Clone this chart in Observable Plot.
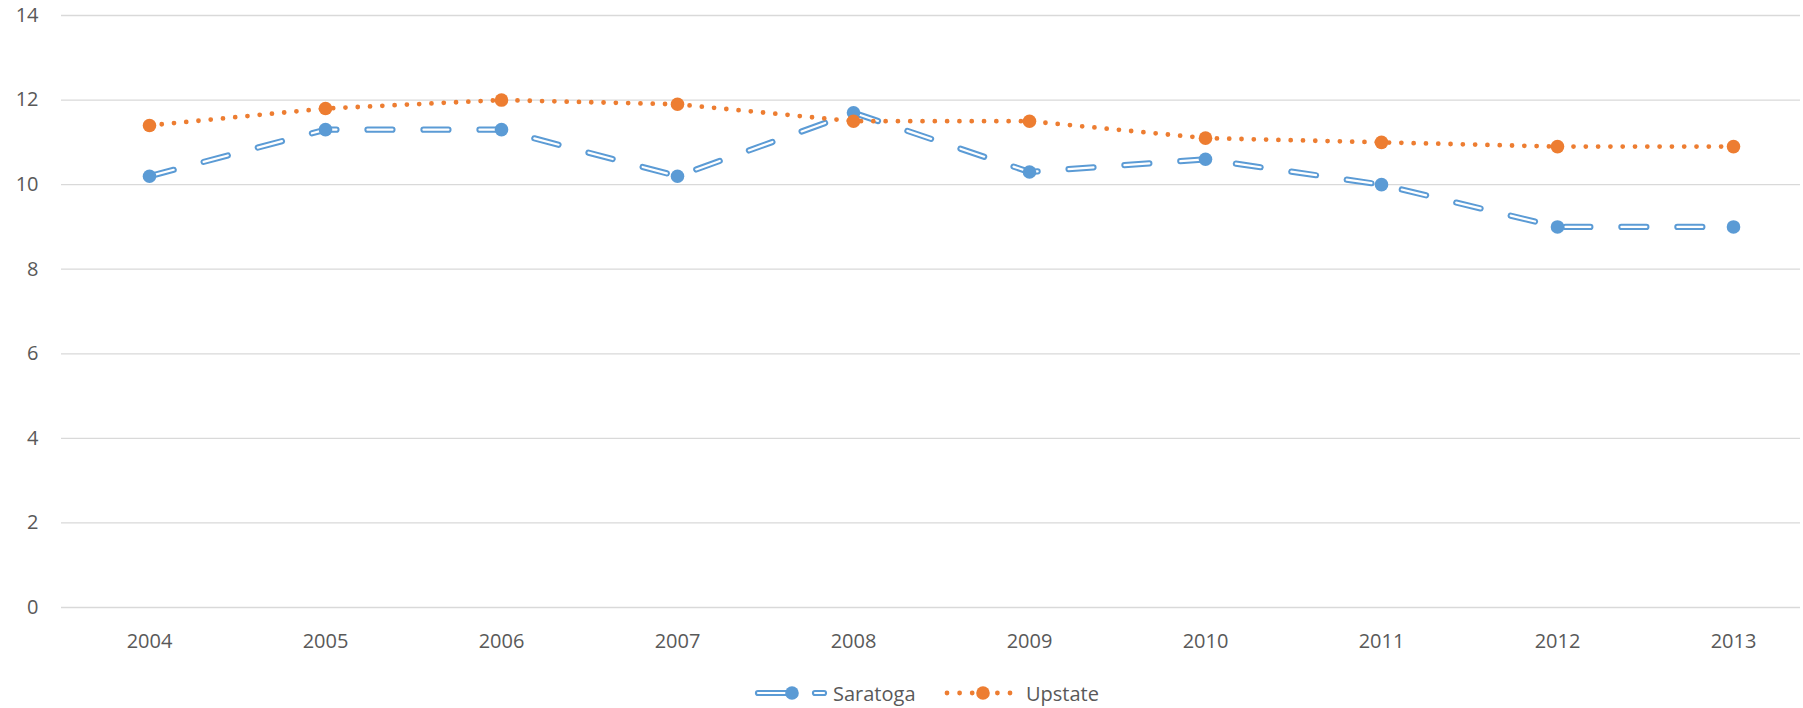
<!DOCTYPE html>
<html><head><meta charset="utf-8">
<script src="https://cdn.jsdelivr.net/npm/d3@7"></script>
<script src="https://cdn.jsdelivr.net/npm/@observablehq/plot@0.6"></script>
<style>
html,body{margin:0;padding:0;background:#fff;}
#chart{width:1803px;height:708px;position:relative;font-family:"Open Sans",sans-serif;overflow:hidden;}
#legend{position:absolute;left:0;top:665px;height:43px;width:1803px;}
.item{position:absolute;top:0;height:56px;display:flex;align-items:center;font-size:20px;color:#595959;font-family:"Open Sans",sans-serif;}
.item svg{display:block;}
</style></head><body><div id="chart"><div id="plot"></div><div id="legend"></div></div>
<script>
const years = ["2004","2005","2006","2007","2008","2009","2010","2011","2012","2013"];
const saratoga = [10.2, 11.3, 11.3, 10.2, 11.7, 10.3, 10.6, 10.0, 9.0, 9.0];
const upstate = [11.4, 11.8, 12.0, 11.9, 11.5, 11.5, 11.1, 11.0, 10.9, 10.9];
const yTicks = [0, 2, 4, 6, 8, 10, 12, 14];
const seriesNames = ["Saratoga", "Upstate"];
const colors = ["#5B9BD5", "#ED7D31"];

const sar = years.map((year, i) => ({year, series: seriesNames[0], value: saratoga[i]}));
const ups = years.map((year, i) => ({year, series: seriesNames[1], value: upstate[i]}));

const plot = Plot.plot({
  width: 1803, height: 665,
  marginLeft: 61, marginRight: 3, marginTop: 15, marginBottom: 58,
  style: {fontFamily: "'Open Sans', sans-serif", fontSize: "20px", color: "#595959", background: "#fff"},
  x: {type: "point", domain: years, padding: 0, insetLeft: 88, insetRight: 67, label: null},
  y: {domain: [0, 14], label: null},
  marks: [
    Plot.ruleY(yTicks, {stroke: "#D9D9D9", strokeWidth: 1.3}),
    Plot.axisX({tickSize: 0, tickPadding: 26, label: null}),
    Plot.axisY(yTicks, {tickSize: 0, tickPadding: 23, label: null}),
    Plot.line(sar, {x: "year", y: "value", stroke: colors[0], strokeWidth: 6.2, strokeDasharray: "25,31", strokeLinecap: "round"}),
    Plot.line(sar, {x: "year", y: "value", stroke: "#fff", strokeWidth: 2.2, strokeDasharray: "25,31", strokeLinecap: "round"}),
    Plot.dot(sar, {x: "year", y: "value", fill: colors[0], r: 6.8}),
    Plot.line(ups, {x: "year", y: "value", stroke: colors[1], strokeWidth: 4.8, strokeDasharray: "0,12.3", strokeLinecap: "round"}),
    Plot.dot(ups, {x: "year", y: "value", fill: colors[1], r: 6.8})
  ]
});
document.getElementById("plot").appendChild(plot);

// legend
const legend = d3.select("#legend");
const item1 = legend.append("div").attr("class", "item").style("left", "753px");
const s1 = item1.append("svg").attr("width", 76).attr("height", 20);
[[5, 35], [62, 71]].forEach(([a, b]) => {
  s1.append("line").attr("x1", a).attr("x2", b).attr("y1", 10).attr("y2", 10)
    .attr("stroke", colors[0]).attr("stroke-width", 6.2).attr("stroke-linecap", "round");
  s1.append("line").attr("x1", a).attr("x2", b).attr("y1", 10).attr("y2", 10)
    .attr("stroke", "#fff").attr("stroke-width", 2.2).attr("stroke-linecap", "round");
});
s1.append("circle").attr("cx", 39).attr("cy", 10).attr("r", 6.8).attr("fill", colors[0]);
item1.append("span").text(seriesNames[0]).style("margin-left", "4px");

const item2 = legend.append("div").attr("class", "item").style("left", "944px");
const s2 = item2.append("svg").attr("width", 72).attr("height", 20);
s2.append("line").attr("x1", 3).attr("x2", 67).attr("y1", 10).attr("y2", 10)
  .attr("stroke", colors[1]).attr("stroke-width", 4.8).attr("stroke-dasharray", "0,12.6").attr("stroke-linecap", "round");
s2.append("circle").attr("cx", 39).attr("cy", 10).attr("r", 6.8).attr("fill", colors[1]);
item2.append("span").text(seriesNames[1]).style("margin-left", "10px");
</script>
</body></html>
